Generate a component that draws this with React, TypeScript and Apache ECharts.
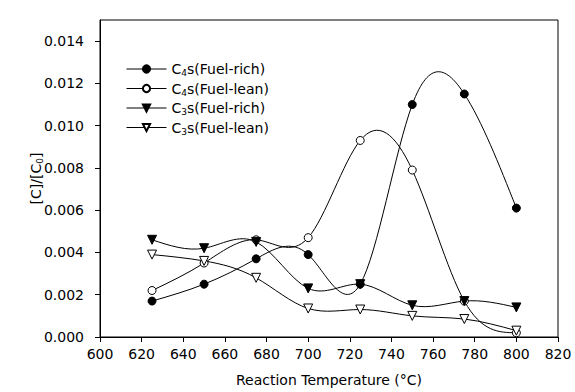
import React, { useEffect, useRef } from "react";
import * as echarts from "echarts";

const temperatures = [625, 650, 675, 700, 725, 750, 775, 800];
const c4Rich = [0.0017, 0.0025, 0.0037, 0.0039, 0.0025, 0.011, 0.0115, 0.0061];
const c4Lean = [0.0022, 0.0035, 0.0046, 0.0047, 0.0093, 0.0079, 0.0017, 0.0002];
const c3Rich = [0.0046, 0.0042, 0.0045, 0.0023, 0.0025, 0.0015, 0.0017, 0.0014];
const c3Lean = [0.0039, 0.0036, 0.0028, 0.00135, 0.0013, 0.001, 0.00085, 0.0003];
const seriesNames = ["C4s(Fuel-rich)", "C4s(Fuel-lean)", "C3s(Fuel-rich)", "C3s(Fuel-lean)"];

const FONT = "'DejaVu Sans', sans-serif";

// natural cubic spline in pixel space, returns bezier control points per segment
function splineBeziers(pts: number[][]) {
  const n = pts.length;
  const x = pts.map((p) => p[0]);
  const y = pts.map((p) => p[1]);
  const h: number[] = [];
  for (let i = 0; i < n - 1; i++) h.push(x[i + 1] - x[i]);
  const M = new Array(n).fill(0);
  if (n > 2) {
    const a: number[] = [], b: number[] = [], c: number[] = [], d: number[] = [];
    for (let i = 1; i < n - 1; i++) {
      a.push(h[i - 1]);
      b.push(2 * (h[i - 1] + h[i]));
      c.push(h[i]);
      d.push(6 * ((y[i + 1] - y[i]) / h[i] - (y[i] - y[i - 1]) / h[i - 1]));
    }
    const m = b.length;
    for (let i = 1; i < m; i++) {
      const w = a[i] / b[i - 1];
      b[i] -= w * c[i - 1];
      d[i] -= w * d[i - 1];
    }
    const sol = new Array(m).fill(0);
    sol[m - 1] = d[m - 1] / b[m - 1];
    for (let i = m - 2; i >= 0; i--) sol[i] = (d[i] - c[i] * sol[i + 1]) / b[i];
    for (let i = 0; i < m; i++) M[i + 1] = sol[i];
  }
  const segs = [];
  for (let i = 0; i < n - 1; i++) {
    const hi = h[i];
    const s = (y[i + 1] - y[i]) / hi;
    const d0 = s - (hi * (2 * M[i] + M[i + 1])) / 6;
    const d1 = s + (hi * (M[i] + 2 * M[i + 1])) / 6;
    segs.push({
      x1: x[i], y1: y[i],
      cpx1: x[i] + hi / 3, cpy1: y[i] + (d0 * hi) / 3,
      cpx2: x[i + 1] - hi / 3, cpy2: y[i + 1] - (d1 * hi) / 3,
      x2: x[i + 1], y2: y[i + 1],
    });
  }
  return segs;
}

export default function App() {
  const ref = useRef<HTMLDivElement>(null);
  useEffect(() => {
    document.body.style.margin = "0";
    if (!ref.current) return;
    const chart = echarts.init(ref.current, undefined, { renderer: "svg" });
    const pair = (arr: number[]) => temperatures.map((t, i) => [t, arr[i]]);
    const markers = (name: string, data: number[], symbol: string, filled: boolean, rotate = 0) => ({
      name,
      type: "line",
      data: pair(data),
      symbol,
      symbolSize: symbol === "circle" ? 8 : 9,
      symbolRotate: rotate,
      showSymbol: true,
      lineStyle: { color: "#000", width: 1, opacity: 0 },
      itemStyle: { color: filled ? "#000" : "#fff", borderColor: "#000", borderWidth: 1 },
      emphasis: { disabled: true },
      z: 5,
    });
    const curve = (data: number[], key: string) => ({
      name: key,
      type: "custom",
      data: pair(data),
      clip: true,
      z: 2,
      silent: true,
      renderItem: (params: any, api: any) => {
        const i = params.dataIndex;
        if (i >= data.length - 1) return null;
        const pts = pair(data).map((p) => api.coord(p));
        const seg = splineBeziers(pts)[i];
        return {
          type: "bezierCurve",
          shape: seg,
          style: { stroke: "#000", fill: "none", lineWidth: 1 },
        };
      },
    });
    const rich = {
      a: { fontSize: 14, fontFamily: FONT, color: "#000" },
      s: { fontSize: 9, fontFamily: FONT, color: "#000", verticalAlign: "bottom", padding: [8, 0, 0, 0] },
    };
    chart.setOption({
      animation: false,
      backgroundColor: "#fff",
      textStyle: { fontFamily: FONT },
      grid: {
        left: 100,
        right: 17,
        top: 20,
        bottom: 55,
        show: true,
        borderColor: "#000",
        borderWidth: 1,
      },
      legend: {
        orient: "vertical",
        left: 121,
        top: 57,
        itemWidth: 40,
        itemHeight: 9,
        itemGap: 4,
        data: seriesNames,
        lineStyle: { color: "#000", width: 1, opacity: 1 },
        formatter: (name: string) => {
          const m = name.match(/^C(\d)(.*)$/);
          if (!m) return name;
          return `{a|C}{s|${m[1]}}{a|${m[2]}}`;
        },
        textStyle: { fontFamily: FONT, color: "#000", rich },
      },
      xAxis: {
        type: "value",
        min: 600,
        max: 820,
        interval: 20,
        name: "Reaction Temperature (°C)",
        nameLocation: "middle",
        nameGap: 36,
        nameMoveOverlap: false,
        nameTextStyle: { fontSize: 14, color: "#000", fontFamily: FONT },
        axisLine: { lineStyle: { color: "#000", width: 1 } },
        axisTick: { inside: false, length: 5, lineStyle: { color: "#000" } },
        axisLabel: { fontSize: 14, color: "#000", margin: 10, fontFamily: FONT },
        splitLine: { show: false },
      },
      yAxis: {
        type: "value",
        min: 0,
        max: 0.015,
        interval: 0.002,
        name: "{a|[C]/[C}{s|0}{a|]}",
        nameLocation: "middle",
        nameGap: 56,
        nameMoveOverlap: false,
        nameTextStyle: { color: "#000", rich },
        axisLine: { show: true, lineStyle: { color: "#000", width: 1 } },
        axisTick: { show: true, inside: false, length: 5, lineStyle: { color: "#000" } },
        axisLabel: {
          fontSize: 14,
          color: "#000",
          margin: 16,
          fontFamily: FONT,
          showMaxLabel: false,
          formatter: (v: number) => v.toFixed(3),
        },
        splitLine: { show: false },
      },
      series: [
        curve(c4Rich, "c4RichCurve"),
        curve(c4Lean, "c4LeanCurve"),
        curve(c3Rich, "c3RichCurve"),
        curve(c3Lean, "c3LeanCurve"),
        markers(seriesNames[0], c4Rich, "circle", true),
        markers(seriesNames[1], c4Lean, "circle", false),
        markers(seriesNames[2], c3Rich, "triangle", true, 180),
        markers(seriesNames[3], c3Lean, "triangle", false, 180),
      ],
    });
    return () => chart.dispose();
  }, []);
  return <div ref={ref} style={{ width: 575, height: 392 }} />;
}
